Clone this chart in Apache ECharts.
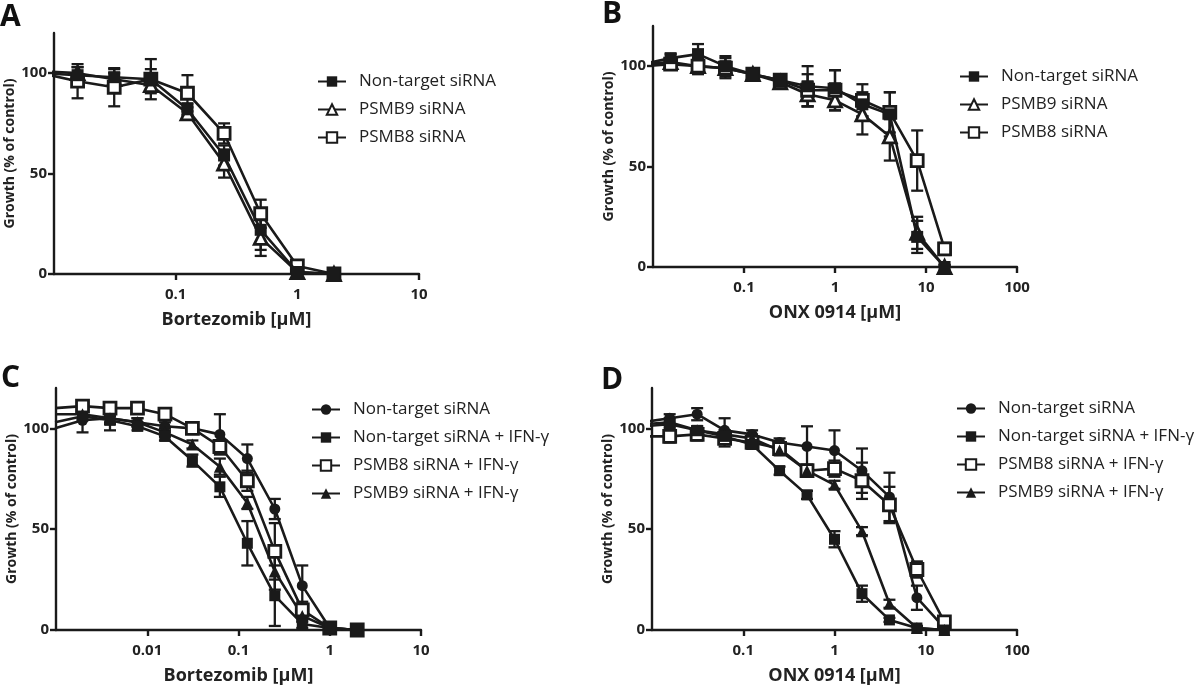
<!DOCTYPE html>
<html><head><meta charset="utf-8">
<script src="https://cdn.jsdelivr.net/npm/echarts@6/dist/echarts.min.js"></script>
<style>html,body{margin:0;padding:0;background:#fff}#c{width:1200px;height:690px}</style>
</head><body><div id="c"></div>
<script>
// ---------- data ----------
const xA = [0.0078125, 0.015625, 0.03125, 0.0625, 0.125, 0.25, 0.5, 1, 2];
const A_nonTarget     = [100, 99, 98, 97, 82, 59, 22, 1, 0];
const A_nonTarget_err = [0, 4, 4, 10, 3, 5, 10, 1, 0];
const A_psmb9         = [101, 100, 97, 94, 80, 55, 18, 1, 0];
const A_psmb9_err     = [0, 3, 3, 4, 3, 7, 9, 1, 0];
const A_psmb8         = [100, 96, 93, 97, 90, 70, 30, 4, 0];
const A_psmb8_err     = [0, 8.5, 9.5, 5, 9, 5, 7, 1, 0];

const xB = [0.0078125, 0.015625, 0.03125, 0.0625, 0.125, 0.25, 0.5, 1, 2, 4, 8, 16];
const B_nonTarget     = [101, 104, 106, 100, 96, 93, 90, 89, 81, 76, 15, 0];
const B_nonTarget_err = [0, 2, 5, 5, 2, 2, 10, 9, 6, 11, 8, 1];
const B_psmb9         = [101, 102, 100, 99, 96, 92, 86, 83, 76, 65, 17, 0];
const B_psmb9_err     = [0, 2, 3, 3, 2, 2, 6, 5, 10, 12, 8, 1];
const B_psmb8         = [100, 101, 100, 99, 96, 93, 88, 88, 83, 77, 53, 9];
const B_psmb8_err     = [0, 2, 4, 5, 2, 3, 8, 10, 8, 10, 15, 3];

const xC = [0.0009765625, 0.001953125, 0.00390625, 0.0078125, 0.015625, 0.03125, 0.0625, 0.125, 0.25, 0.5, 1, 2];
const C_nonTarget        = [100, 104, 105, 103, 101, 100, 97, 85, 60, 22, 1, 0];
const C_nonTarget_err    = [0, 6, 6, 2, 2, 2, 10, 7, 5, 10, 1, 0];
const C_ntIFN            = [103, 106, 104, 101, 96, 84, 71, 43, 17, 3, 1, 0];
const C_ntIFN_err        = [0, 2, 2, 2, 2, 3, 5, 11, 15, 2, 1, 0];
const C_psmb8IFN         = [110, 111, 110, 110, 107, 100, 91, 74, 39, 10, 1, 0];
const C_psmb8IFN_err     = [0, 2, 2, 2, 2, 2, 3, 5, 14, 4, 1, 0];
const C_psmb9IFN         = [107, 107, 105, 103, 98, 92, 81, 63, 29, 7, 1, 0];
const C_psmb9IFN_err     = [0, 2, 2, 2, 2, 2, 4, 3, 9, 3, 1, 0];

const xD = [0.0078125, 0.015625, 0.03125, 0.0625, 0.125, 0.25, 0.5, 1, 2, 4, 8, 16];
const D_nonTarget        = [103, 105, 107, 99, 97, 93, 91, 89, 79, 66, 16, 1];
const D_nonTarget_err    = [0, 2, 3, 6, 2, 2, 10, 10, 11, 12, 6, 1];
const D_ntIFN            = [101, 102, 99, 96, 92, 79, 67, 45, 18, 5, 1, 0];
const D_ntIFN_err        = [0, 2, 2, 2, 2, 2, 2, 4, 4, 1, 1, 0];
const D_psmb8IFN         = [96, 96, 97, 95, 93, 90, 79, 80, 74, 62, 30, 4];
const D_psmb8IFN_err     = [0, 3, 3, 4, 2, 2, 3, 4, 9, 9, 4, 2];
const D_psmb9IFN         = [102, 103, 99, 97, 95, 89, 79, 72, 49, 13, 1, 0];
const D_psmb9IFN_err     = [0, 2, 2, 2, 2, 2, 2, 2, 2, 2, 1, 0];

const yTicks = [0, 50, 100];
const xTicksA = [0.1, 1, 10];
const xTicksB = [0.1, 1, 10, 100];
const xTicksC = [0.01, 0.1, 1, 10];
const xTicksD = [0.1, 1, 10, 100];
const yName = 'Growth (% of control)';

// ---------- layout / styles ----------
const FONT = 'Open Sans';
const INK = '#1a1a1a';
const panels = [
  {key:'A', x:xA, xMin:0.01, xMax:10, xTicks:xTicksA, xName:'Bortezomib [μM]',
   grid:{left:54, top:33, width:365, height:241}, letter:[0,2], legend:{left:312, top:68},
   series:[
     {name:'Non-target siRNA', y:A_nonTarget, err:A_nonTarget_err, symbol:'rect', size:12, open:false},
     {name:'PSMB9 siRNA', y:A_psmb9, err:A_psmb9_err, symbol:'triangle', size:13, open:true},
     {name:'PSMB8 siRNA', y:A_psmb8, err:A_psmb8_err, symbol:'rect', size:12, open:true}]},
  {key:'B', x:xB, xMin:0.01, xMax:100, xTicks:xTicksB, xName:'ONX 0914 [μM]',
   grid:{left:653, top:26, width:364, height:241}, letter:[602,-1], legend:{left:954, top:63},
   series:[
     {name:'Non-target siRNA', y:B_nonTarget, err:B_nonTarget_err, symbol:'rect', size:12, open:false},
     {name:'PSMB9 siRNA', y:B_psmb9, err:B_psmb9_err, symbol:'triangle', size:13, open:true},
     {name:'PSMB8 siRNA', y:B_psmb8, err:B_psmb8_err, symbol:'rect', size:12, open:true}]},
  {key:'C', x:xC, xMin:0.001, xMax:10, xTicks:xTicksC, xName:'Bortezomib [μM]',
   grid:{left:56, top:388, width:365, height:242}, letter:[1,363], legend:{left:306, top:396},
   series:[
     {name:'Non-target siRNA', y:C_nonTarget, err:C_nonTarget_err, symbol:'circle', size:11, open:false},
     {name:'Non-target siRNA + IFN-γ', y:C_ntIFN, err:C_ntIFN_err, symbol:'rect', size:11, open:false},
     {name:'PSMB8 siRNA + IFN-γ', y:C_psmb8IFN, err:C_psmb8IFN_err, symbol:'rect', size:12, open:true},
     {name:'PSMB9 siRNA + IFN-γ', y:C_psmb9IFN, err:C_psmb9IFN_err, symbol:'triangle', size:12, open:false}]},
  {key:'D', x:xD, xMin:0.01, xMax:100, xTicks:xTicksD, xName:'ONX 0914 [μM]',
   grid:{left:652, top:388, width:365, height:242}, letter:[601,365], legend:{left:951, top:395},
   series:[
     {name:'Non-target siRNA', y:D_nonTarget, err:D_nonTarget_err, symbol:'circle', size:11, open:false},
     {name:'Non-target siRNA + IFN-γ', y:D_ntIFN, err:D_ntIFN_err, symbol:'rect', size:11, open:false},
     {name:'PSMB8 siRNA + IFN-γ', y:D_psmb8IFN, err:D_psmb8IFN_err, symbol:'rect', size:12, open:true},
     {name:'PSMB9 siRNA + IFN-γ', y:D_psmb9IFN, err:D_psmb9IFN_err, symbol:'triangle', size:12, open:false}]}
];

function errRender(params, api) {
  const x = api.value(0), lo = api.value(1), hi = api.value(2);
  const p1 = api.coord([x, hi]), p2 = api.coord([x, lo]);
  const hw = 6;
  const st = {stroke: INK, lineWidth: 2.3};
  return {type:'group', children:[
    {type:'line', shape:{x1:p1[0], y1:p1[1], x2:p2[0], y2:p2[1]}, style:st},
    {type:'line', shape:{x1:p1[0]-hw, y1:p1[1], x2:p1[0]+hw, y2:p1[1]}, style:st},
    {type:'line', shape:{x1:p2[0]-hw, y1:p2[1], x2:p2[0]+hw, y2:p2[1]}, style:st}
  ]};
}

const option = {animation:false, backgroundColor:'#fff', grid:[], xAxis:[], yAxis:[], series:[], legend:[], graphic:[]};
const fmtNum = v => String(+v.toPrecision(6));

panels.forEach((p, gi) => {
  option.grid.push(Object.assign({containLabel:false}, p.grid));
  option.xAxis.push({type:'log', logBase:10, gridIndex:gi, min:p.xMin, max:p.xMax,
    name:p.xName, nameLocation:'middle', nameGap:37,
    nameTextStyle:{fontFamily:FONT, fontWeight:'bold', fontSize:18, color:'#222'},
    axisLine:{lineStyle:{color:INK, width:2.4}},
    axisTick:{show:true, length:6, lineStyle:{color:INK, width:2.4}, customValues:p.xTicks},
    axisLabel:{fontFamily:FONT, fontWeight:'bold', fontSize:15, color:'#222', margin:13, customValues:p.xTicks, formatter:fmtNum},
    minorTick:{show:false}, splitLine:{show:false}});
  option.yAxis.push({type:'value', gridIndex:gi, min:0, max:120,
    name:yName, nameLocation:'middle', nameGap:33,
    nameTextStyle:{fontFamily:FONT, fontWeight:'bold', fontSize:14, color:'#222'},
    axisLine:{show:true, lineStyle:{color:INK, width:2.4}},
    axisTick:{show:true, length:6, lineStyle:{color:INK, width:2.4}, customValues:yTicks},
    axisLabel:{fontFamily:FONT, fontWeight:'bold', fontSize:15, color:'#222', margin:7, customValues:yTicks},
    splitLine:{show:false}});
  const legendNames = [];
  p.series.forEach(s => {
    const nm = p.key + ':' + s.name;
    legendNames.push(nm);
    const errData = [];
    p.x.forEach((x, i) => { if (s.err[i] > 0) errData.push([x, s.y[i] - s.err[i], s.y[i] + s.err[i]]); });
    option.series.push({type:'custom', xAxisIndex:gi, yAxisIndex:gi, renderItem:errRender,
      data:errData, encode:{x:0, y:[1,2]}, z:2, silent:true, clip:true});
    option.series.push({type:'line', name:nm, xAxisIndex:gi, yAxisIndex:gi,
      data:p.x.map((x, i) => [x, s.y[i]]), symbol:s.symbol, symbolSize:s.size, showAllSymbol:true,
      lineStyle:{color:INK, width:2.6},
      itemStyle: s.open ? {color:'#fff', borderColor:INK, borderWidth:2.8} : {color:INK, borderColor:INK, borderWidth:0},
      clip:true, z:(!s.open && s.symbol === 'rect') ? 4 : 3});
  });
  option.legend.push({orient:'vertical', left:p.legend.left, top:p.legend.top, data:legendNames,
    itemWidth:28, itemHeight:13, itemGap:11, selectedMode:false,
    formatter: n => n.slice(2),
    textStyle:{fontFamily:FONT, fontSize:17, color:'#222', padding:[0,0,0,8]}});
  option.graphic.push({type:'text', left:p.letter[0], top:p.letter[1],
    style:{text:p.key, font:'bold 30px "' + FONT + '"', fill:'#111'}});
});

const chart = echarts.init(document.getElementById('c'), null, {renderer:'canvas'});
chart.setOption(option);
</script></body></html>
